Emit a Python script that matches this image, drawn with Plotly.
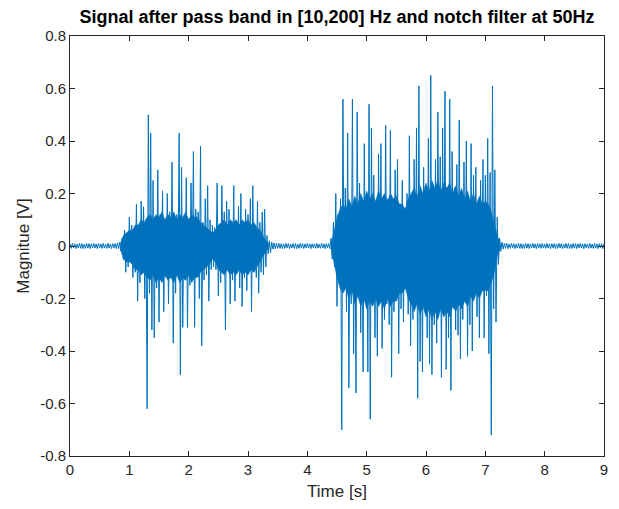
import numpy as np
import plotly.graph_objects as go

dt = 0.02  # sample spacing in seconds

quiet_start = [
    0.008, -0.009, 0.010, -0.007, 0.009, -0.010, 0.007, -0.008, 0.010, -0.009,
    0.009, -0.010, 0.007, -0.009, 0.010, -0.008, 0.009, -0.010, 0.008, -0.007,
    0.010, -0.008, 0.008, -0.010, 0.009, -0.007, 0.008, -0.009, 0.010, -0.008,
    0.007, -0.009, 0.010, -0.008, 0.008, -0.010, 0.009, -0.007, 0.009, -0.010,
]

burst1 = [
    0.012, -0.010, 0.015, -0.02, 0.03, -0.05, 0.06, -0.10, 0.05, -0.08,
    0.11, -0.06, 0.08, -0.12, 0.05, -0.10, 0.16, -0.21, 0.07, -0.14,
    0.17, -0.08, 0.15, -0.20, 0.09, -0.62, 0.50, -0.18, 0.43, -0.32,
    0.25, -0.35, 0.10, -0.16, 0.29, -0.29, 0.12, -0.09, 0.21, -0.25,
    0.09, -0.12, 0.20, -0.22, 0.13, -0.08, 0.32, -0.37, 0.10, -0.18,
    0.12, -0.09, 0.43, -0.49, 0.30, -0.31, 0.08, -0.13, 0.26, -0.31,
    0.10, -0.15, 0.24, -0.09, 0.36, -0.31, 0.14, -0.10, 0.13, -0.20,
    0.38, -0.38, 0.09, -0.13, 0.18, -0.11, 0.23, -0.21, 0.10, -0.09,
    0.08, -0.08, 0.07, -0.09, 0.24, -0.19, 0.08, -0.14, 0.23, -0.10,
    0.13, -0.32, 0.17, -0.08, 0.14, -0.22, 0.07, -0.13, 0.23, -0.21,
    0.09, -0.10, 0.15, -0.16, 0.20, -0.23, 0.07, -0.12, 0.14, -0.17,
    0.12, -0.08, 0.18, -0.25, 0.23, -0.10, 0.08, -0.12, 0.17, -0.18,
    0.09, -0.10, 0.13, -0.11, 0.14, -0.08, 0.04, -0.03, 0.02, -0.025,
]

quiet_mid = [
    0.015, -0.012, 0.012, -0.010, 0.011, -0.009, 0.010, -0.009, 0.009, -0.010,
    0.008, -0.009, 0.010, -0.007, 0.009, -0.010, 0.007, -0.008, 0.010, -0.009,
    0.009, -0.010, 0.007, -0.009, 0.010, -0.008, 0.009, -0.010, 0.008, -0.007,
    0.010, -0.008, 0.008, -0.010, 0.009, -0.007, 0.008, -0.009, 0.010, -0.008,
    0.007, -0.009, 0.010, -0.008, 0.008, -0.010, 0.009, -0.007, 0.009, -0.010,
]

burst2 = [
    0.03, -0.05, 0.09, -0.08, 0.20, -0.23, 0.12, -0.10, 0.18, -0.70,
    0.56, -0.14, 0.22, -0.25, 0.43, -0.54, 0.16, -0.22, 0.56, -0.41,
    0.18, -0.56, 0.51, -0.15, 0.24, -0.33, 0.14, -0.48, 0.39, -0.20,
    0.16, -0.48, 0.54, -0.66, 0.45, -0.18, 0.27, -0.35, 0.15, -0.42,
    0.35, -0.17, 0.39, -0.39, 0.14, -0.28, 0.46, -0.22, 0.18, -0.30,
    0.44, -0.50, 0.16, -0.25, 0.29, -0.15, 0.33, -0.41, 0.14, -0.24,
    0.25, -0.29, 0.14, -0.12, 0.20, -0.26, 0.42, -0.38, 0.18, -0.28,
    0.33, -0.17, 0.45, -0.58, 0.61, -0.44, 0.20, -0.48, 0.30, -0.21,
    0.18, -0.35, 0.41, -0.45, 0.65, -0.49, 0.22, -0.30, 0.33, -0.37,
    0.51, -0.20, 0.34, -0.50, 0.45, -0.21, 0.59, -0.47, 0.19, -0.35,
    0.56, -0.55, 0.36, -0.18, 0.22, -0.32, 0.31, -0.34, 0.48, -0.43,
    0.17, -0.28, 0.32, -0.19, 0.40, -0.42, 0.15, -0.30, 0.39, -0.40,
    0.27, -0.16, 0.30, -0.27, 0.14, -0.35, 0.25, -0.17, 0.33, -0.35,
    0.27, -0.19, 0.41, -0.41, 0.28, -0.72, 0.61, -0.24, 0.29, -0.29,
    0.11, -0.07, 0.03, -0.02, 0.015, -0.012, 0.010, -0.009, 0.011, -0.010,
]

quiet_end = [
    0.008, -0.009, 0.010, -0.007, 0.009, -0.010, 0.007, -0.008, 0.010, -0.009,
    0.009, -0.010, 0.007, -0.009, 0.010, -0.008, 0.009, -0.010, 0.008, -0.007,
    0.010, -0.008, 0.008, -0.010, 0.009, -0.007, 0.008, -0.009, 0.010, -0.008,
    0.007, -0.009, 0.010, -0.008, 0.008, -0.010, 0.009, -0.007, 0.009, -0.010,
    0.008, -0.009, 0.010, -0.007, 0.009, -0.010, 0.007, -0.008, 0.010, -0.009,
    0.009, -0.010, 0.007, -0.009, 0.010, -0.008, 0.009, -0.010, 0.008, -0.007,
    0.010, -0.008, 0.008, -0.010, 0.009, -0.007, 0.008, -0.009, 0.010, -0.008,
    0.007, -0.009, 0.010, -0.008, 0.008, -0.010, 0.009, -0.007, 0.009, -0.010,
    0.008,
]

# dense (visually solid) core of each burst, read every 0.05 s
core_dt = 0.05
core1_start = 0.85
core1_up = [
    0.01, 0.04, 0.05, 0.06, 0.06, 0.08, 0.08, 0.10, 0.09, 0.11,
    0.12, 0.10, 0.12, 0.11, 0.13, 0.10, 0.12, 0.11, 0.13, 0.10,
    0.12, 0.11, 0.13, 0.10, 0.12, 0.11, 0.11, 0.09, 0.08, 0.07,
    0.06, 0.05, 0.06, 0.08, 0.09, 0.10, 0.08, 0.10, 0.09, 0.10,
    0.08, 0.10, 0.09, 0.10, 0.08, 0.09, 0.07, 0.06, 0.04, 0.02,
    0.01,
]
core1_lo = [
    -0.01, -0.05, -0.06, -0.06, -0.07, -0.09, -0.09, -0.11, -0.10, -0.12,
    -0.13, -0.11, -0.14, -0.12, -0.14, -0.11, -0.13, -0.12, -0.14, -0.11,
    -0.14, -0.12, -0.13, -0.11, -0.14, -0.12, -0.12, -0.10, -0.09, -0.08,
    -0.07, -0.05, -0.06, -0.09, -0.10, -0.11, -0.09, -0.11, -0.10, -0.11,
    -0.09, -0.11, -0.10, -0.11, -0.09, -0.10, -0.08, -0.06, -0.04, -0.02,
    -0.01,
]
core2_start = 4.40
core2_up = [
    0.01, 0.05, 0.11, 0.14, 0.16, 0.14, 0.18, 0.15, 0.19, 0.16,
    0.20, 0.17, 0.21, 0.18, 0.20, 0.17, 0.21, 0.18, 0.20, 0.17,
    0.20, 0.18, 0.19, 0.16, 0.16, 0.14, 0.18, 0.20, 0.22, 0.19,
    0.23, 0.20, 0.24, 0.21, 0.25, 0.22, 0.25, 0.21, 0.24, 0.22,
    0.24, 0.20, 0.23, 0.19, 0.22, 0.18, 0.21, 0.17, 0.20, 0.16,
    0.19, 0.16, 0.17, 0.16, 0.13, 0.09, 0.04, 0.01,
]
core2_lo = [
    -0.01, -0.06, -0.12, -0.16, -0.18, -0.16, -0.20, -0.17, -0.22, -0.19,
    -0.23, -0.20, -0.24, -0.21, -0.23, -0.20, -0.23, -0.21, -0.24, -0.20,
    -0.23, -0.21, -0.21, -0.18, -0.18, -0.16, -0.20, -0.22, -0.25, -0.22,
    -0.26, -0.23, -0.27, -0.24, -0.28, -0.25, -0.28, -0.24, -0.27, -0.25,
    -0.27, -0.23, -0.25, -0.22, -0.24, -0.21, -0.23, -0.19, -0.21, -0.18,
    -0.20, -0.17, -0.17, -0.17, -0.14, -0.10, -0.04, -0.01,
]

x_ticks = [0, 1, 2, 3, 4, 5, 6, 7, 8, 9]
x_tick_labels = ["0", "1", "2", "3", "4", "5", "6", "7", "8", "9"]
y_ticks = [-0.8, -0.6, -0.4, -0.2, 0, 0.2, 0.4, 0.6, 0.8]
y_tick_labels = ["-0.8", "-0.6", "-0.4", "-0.2", "0", "0.2", "0.4", "0.6", "0.8"]

signal = quiet_start + burst1 + quiet_mid + burst2 + quiet_end
t = np.arange(len(signal)) * dt

line_color = "#0072BD"
fig = go.Figure()
for start, cu, cl in [(core1_start, core1_up, core1_lo), (core2_start, core2_up, core2_lo)]:
    ct = list(start + np.arange(len(cu)) * core_dt)
    fig.add_trace(go.Scatter(
        x=ct + ct[::-1], y=list(cu) + list(cl)[::-1],
        mode="lines", fill="toself", fillcolor=line_color,
        line=dict(color=line_color, width=0.5),
        showlegend=False, hoverinfo="skip",
    ))
fig.add_trace(go.Scatter(
    x=t, y=signal, mode="lines",
    line=dict(color=line_color, width=1),
    showlegend=False, hoverinfo="skip",
))

axis_color = "#262626"
font_family = "Liberation Sans, Arial, sans-serif"

# page body has an 8px margin; compensate so the plot area sits at x 70-604, y 36-456
fig.update_layout(
    width=611, height=501,
    margin=dict(l=62, r=15, t=28, b=53),
    paper_bgcolor="white", plot_bgcolor="white",
    font=dict(family=font_family, size=15, color=axis_color),
    title=dict(
        text="<b>Signal after pass band in [10,200] Hz and notch filter at 50Hz</b>",
        x=0.5, xref="paper", xanchor="center",
        y=1, yref="container", yanchor="top", pad=dict(t=2),
        font=dict(family=font_family, size=18, color="black"),
    ),
    xaxis=dict(
        range=[0, 9], tickvals=x_ticks, ticktext=x_tick_labels,
        showgrid=False, zeroline=False, showline=True, mirror="ticks",
        linecolor=axis_color, linewidth=1, ticks="inside", ticklen=5,
        tickcolor=axis_color, tickfont=dict(size=15, color=axis_color),
        automargin=False,
        title=dict(text="Time [s]", font=dict(size=17, color=axis_color), standoff=8),
    ),
    yaxis=dict(
        range=[-0.8, 0.8], tickvals=y_ticks, ticktext=y_tick_labels,
        showgrid=False, zeroline=False, showline=True, mirror="ticks",
        linecolor=axis_color, linewidth=1, ticks="inside", ticklen=5,
        tickcolor=axis_color, tickfont=dict(size=15, color=axis_color),
        automargin=False,
        title=dict(text="Magnitue [V]", font=dict(size=17, color=axis_color), standoff=6),
    ),
)

fig.write_html("out.html")
